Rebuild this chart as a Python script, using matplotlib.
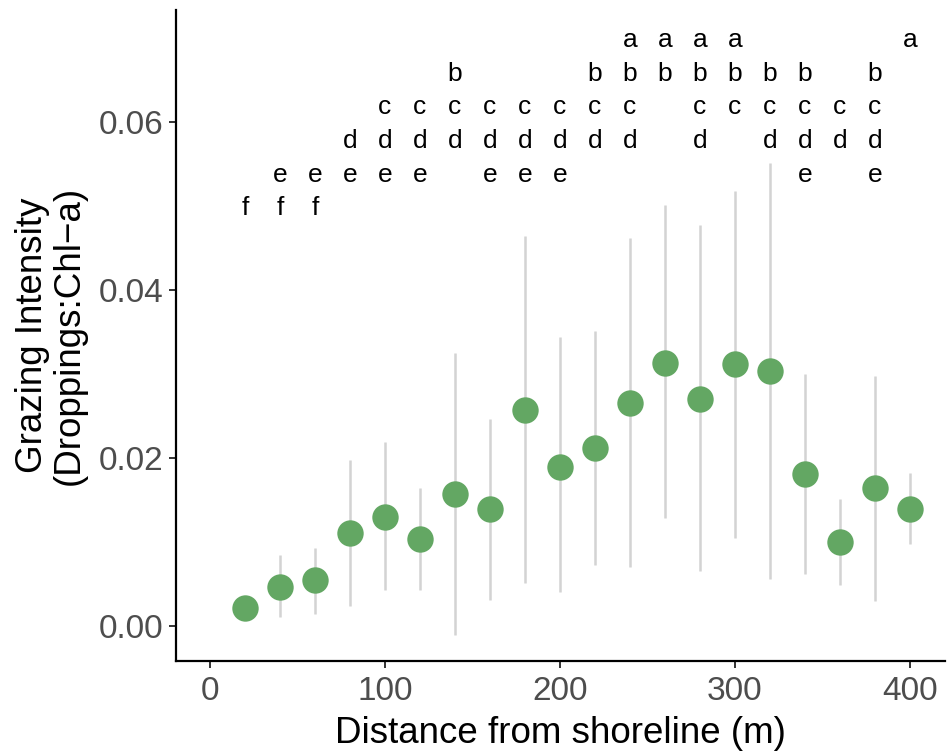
import numpy as np
import matplotlib
matplotlib.use("Agg")
from matplotlib import pyplot as plt

plt.rcParams["font.family"] = ["Liberation Sans", "DejaVu Sans"]

# distance classes and mean grazing intensity with interval bounds
distance = [20, 40, 60, 80, 100, 120, 140, 160, 180, 200,
            220, 240, 260, 280, 300, 320, 340, 360, 380, 400]
grazing = [0.0021, 0.0046, 0.0054, 0.0110, 0.0130, 0.0103, 0.0157, 0.0139, 0.0257, 0.0189,
           0.0211, 0.0265, 0.0313, 0.0270, 0.0311, 0.0303, 0.0181, 0.0100, 0.0164, 0.0139]
upper = [0.0024, 0.0084, 0.0093, 0.0197, 0.0219, 0.0164, 0.0325, 0.0246, 0.0464, 0.0344,
         0.0351, 0.0461, 0.0501, 0.0477, 0.0517, 0.0551, 0.0300, 0.0151, 0.0297, 0.0182]
lower = [0.0018, 0.0010, 0.0014, 0.0023, 0.0043, 0.0042, -0.0011, 0.0031, 0.0051, 0.0040,
         0.0072, 0.0070, 0.0128, 0.0065, 0.0104, 0.0056, 0.0062, 0.0048, 0.0030, 0.0097]

# compact letter display for each distance
groups = ["f", "ef", "ef", "de", "cde", "cde", "bcd", "cde", "cde", "cde",
          "bcd", "abcd", "ab", "abcd", "abc", "bcd", "bcde", "cd", "bcde", "a"]
letter_y = {"a": 0.070, "b": 0.066, "c": 0.062, "d": 0.058, "e": 0.054, "f": 0.050}

fig = plt.figure(figsize=(9.47, 7.53), dpi=100)
ax = fig.add_axes([176 / 947, 92 / 753, 769 / 947, 651 / 753])

ax.vlines(distance, lower, upper, colors="#d3d3d3", linewidth=1.8, zorder=1)
ax.plot(distance, grazing, "o", color="#63a763", markersize=19,
        markeredgewidth=0, zorder=2)

for x, g in zip(distance, groups):
    for ch in g:
        ax.text(x, letter_y[ch] - 0.0003, ch, ha="center", va="center",
                fontsize=19, color="black")

ax.set_xlim(-19.4, 420)
ax.set_ylim(-0.0042, 0.0733)
ax.set_xticks([0, 100, 200, 300, 400])
ax.set_yticks([0.00, 0.02, 0.04, 0.06])
ax.set_yticklabels(["0.00", "0.02", "0.04", "0.06"])

for side in ["top", "right"]:
    ax.spines[side].set_visible(False)
for side in ["left", "bottom"]:
    ax.spines[side].set_linewidth(1.6)
ax.tick_params(axis="both", length=5, width=1.4, color="#333333",
               labelsize=24, labelcolor="#4d4d4d")
ax.tick_params(axis="x", pad=6)
ax.tick_params(axis="y", pad=4)

ax.set_xlabel("Distance from shoreline (m)", fontsize=26.5, labelpad=6)
ax.set_ylabel("Grazing Intensity\n(Droppings:Chl\u2212a)", fontsize=26.5, labelpad=9,
              linespacing=1.05)

fig.savefig("out.png", dpi=100)
